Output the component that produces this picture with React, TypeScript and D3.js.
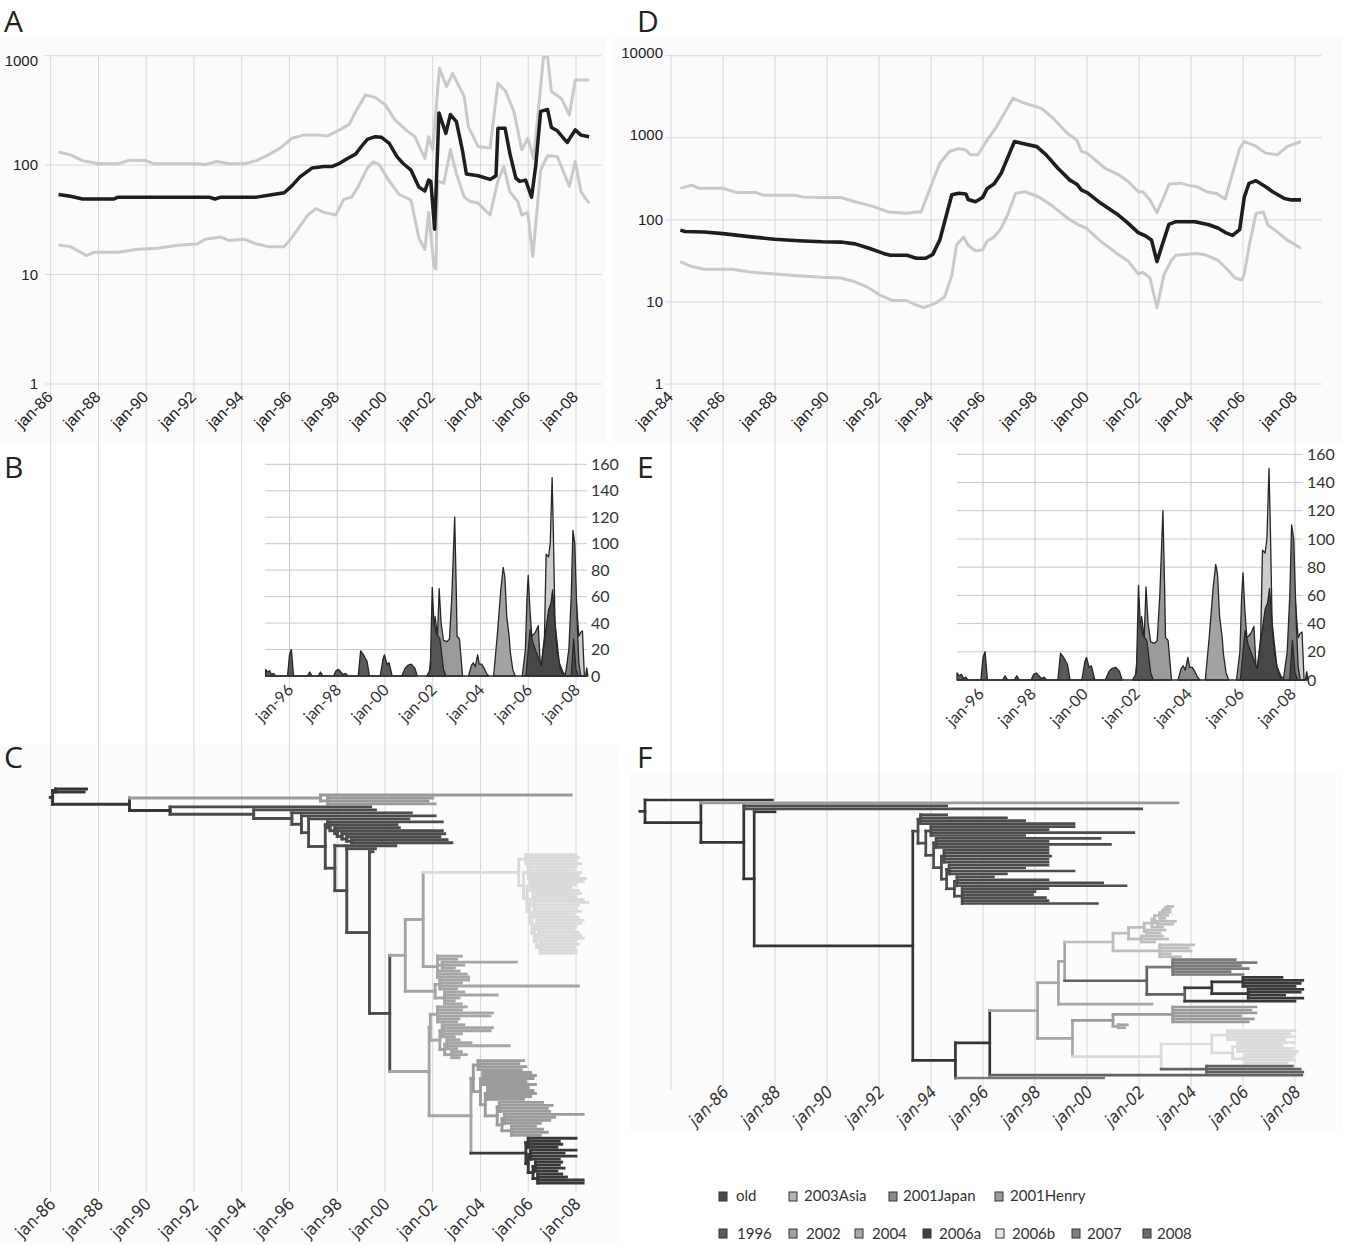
import React from 'react';
import * as d3 from 'd3';

type Pt = [number, number];

// ---------- Tick values ----------
const leftYears = [1986, 1988, 1990, 1992, 1994, 1996, 1998, 2000, 2002, 2004, 2006, 2008];
const rightYears = [1984, 1986, 1988, 1990, 1992, 1994, 1996, 1998, 2000, 2002, 2004, 2006, 2008];
const areaYears = [1996, 1998, 2000, 2002, 2004, 2006, 2008];
const treeFYears = [1986, 1988, 1990, 1992, 1994, 1996, 1998, 2000, 2002, 2004, 2006, 2008];
const logTicksA = [1, 10, 100, 1000];
const logTicksD = [1, 10, 100, 1000, 10000];
const countTicks = [0, 20, 40, 60, 80, 100, 120, 140, 160];
const tickLabel = (y: number) => `jan-${String(y % 100).padStart(2, '0')}`;

// ---------- Panel A (population size, log scale) ----------
const aMedian: Pt[] = [[1986.33,54],[1986.83,52],[1987.33,49],[1987.99,49],[1988.65,49],[1988.82,51],[1990.48,51],[1992.63,51],[1992.88,49],[1993.13,51],[1994.62,51],[1995.12,53],[1995.78,56],[1996.11,65],[1996.44,78],[1996.94,94],[1997.44,97],[1997.77,97],[1998.1,104],[1998.43,115],[1998.77,126],[1999.01,148],[1999.26,172],[1999.59,182],[1999.84,180],[2000.17,159],[2000.51,119],[2000.75,104],[2001.09,90],[2001.42,63],[2001.67,58],[2001.83,73],[2001.92,71],[2002.08,26],[2002.26,300],[2002.55,195],[2002.74,290],[2002.99,250],[2003.24,138],[2003.41,83],[2003.9,80],[2004.4,74],[2004.65,80],[2004.73,217],[2005.03,217],[2005.23,128],[2005.48,76],[2005.64,71],[2005.89,73],[2006.14,51],[2006.31,97],[2006.52,310],[2006.81,322],[2006.97,221],[2007.22,206],[2007.63,161],[2007.97,210],[2008.21,188],[2008.55,182]];
const aUpper: Pt[] = [[1986.33,132],[1986.83,124],[1987.33,110],[1987.99,103],[1988.82,103],[1989.32,111],[1989.98,110],[1990.31,103],[1992.14,103],[1992.47,101],[1992.96,108],[1993.46,103],[1994.12,103],[1994.62,110],[1995.12,124],[1995.61,143],[1996.11,176],[1996.61,189],[1997.11,189],[1997.6,185],[1998.1,210],[1998.51,237],[1998.77,308],[1999.18,437],[1999.59,416],[2000.01,355],[2000.42,259],[2000.92,206],[2001.25,182],[2001.67,115],[2001.83,182],[2002.0,138],[2002.28,767],[2002.58,521],[2002.83,690],[2003.32,422],[2003.49,225],[2003.9,148],[2004.4,143],[2004.73,560],[2005.06,470],[2005.4,308],[2005.73,138],[2005.98,176],[2006.23,115],[2006.64,980],[2006.81,980],[2006.97,470],[2007.39,407],[2007.72,287],[2007.97,600],[2008.55,600]];
const aLower: Pt[] = [[1986.33,18.6],[1986.83,18],[1987.5,14.9],[1987.83,16],[1988.82,16],[1989.65,17],[1990.48,17.4],[1991.31,18.5],[1992.14,19],[1992.47,21],[1993.13,22],[1993.46,20.5],[1994.12,21],[1994.62,19],[1995.12,18],[1995.78,18],[1996.11,22],[1996.77,35],[1997.11,40],[1997.44,37],[1997.94,35],[1998.27,48.7],[1998.6,51],[1998.85,62],[1999.26,94],[1999.51,107],[1999.76,101],[2000.17,72],[2000.59,54],[2001.09,48],[2001.42,21.5],[2001.67,17],[2001.83,37],[2002.05,11.9],[2002.13,11.3],[2002.21,72],[2002.46,68],[2002.74,138],[2002.99,84],[2003.32,51],[2003.57,46.5],[2003.9,45],[2004.4,35],[2004.73,72],[2004.98,97],[2005.23,57],[2005.56,46.5],[2005.73,35],[2005.98,37],[2006.19,14.6],[2006.52,90],[2006.81,122],[2007.22,120],[2007.72,64],[2007.97,108],[2008.21,57],[2008.55,45]];

// ---------- Panel D ----------
const dMedian: Pt[] = [[1984.36,75],[1984.54,72],[1985.27,71],[1986.0,68],[1987.09,62],[1987.99,58],[1988.9,55.6],[1989.81,54],[1990.53,53.6],[1991.08,51],[1991.62,45],[1992.17,39],[1992.44,37],[1993.07,37],[1993.44,34],[1993.8,34],[1994.07,38],[1994.34,57],[1994.8,202],[1995.07,211],[1995.34,207],[1995.43,177],[1995.71,166],[1995.98,187],[1996.16,240],[1996.43,275],[1996.7,370],[1997.07,707],[1997.21,900],[1997.61,840],[1998.07,780],[1998.43,620],[1998.88,425],[1999.34,305],[1999.61,272],[1999.79,230],[2000.01,215],[2000.52,160],[2001.15,118],[2001.51,95],[2001.97,70],[2002.24,64],[2002.48,57],[2002.69,31],[2002.87,47],[2003.15,88],[2003.42,95],[2004.15,95],[2004.69,87],[2005.05,79],[2005.32,70],[2005.6,64.6],[2005.87,76],[2006.05,190],[2006.23,278],[2006.5,300],[2006.87,253],[2007.14,220],[2007.59,182],[2007.87,175],[2008.23,175]];
const dUpper: Pt[] = [[1984.36,242],[1984.8,265],[1985.07,242],[1986.0,242],[1986.54,215],[1987.27,215],[1987.54,200],[1988.72,200],[1989.08,190],[1989.81,187],[1990.53,187],[1991.08,166],[1991.8,145],[1992.35,125],[1993.07,120],[1993.44,125],[1993.62,125],[1993.98,250],[1994.34,490],[1994.71,680],[1995.07,740],[1995.34,710],[1995.52,620],[1995.8,620],[1996.16,940],[1996.52,1360],[1997.15,3020],[1997.61,2630],[1998.25,2280],[1998.7,1730],[1999.25,1130],[1999.61,940],[1999.79,680],[2000.0,650],[2000.7,425],[2001.25,350],[2001.6,290],[2001.97,220],[2002.15,220],[2002.42,175],[2002.69,122],[2002.96,190],[2003.15,273],[2003.6,280],[2003.88,265],[2004.25,252],[2004.6,220],[2004.97,210],[2005.32,180],[2005.6,370],[2005.87,740],[2006.05,900],[2006.5,790],[2006.87,650],[2007.32,620],[2007.69,780],[2008.23,900]];
const dLower: Pt[] = [[1984.36,31],[1984.8,27],[1985.27,25],[1986.36,25],[1987.09,23],[1988.72,21],[1989.81,20],[1990.53,19.6],[1991.08,17.6],[1991.53,15.3],[1992.08,11.9],[1992.53,10.4],[1993.07,10.4],[1993.35,9.4],[1993.71,8.5],[1994.16,9.6],[1994.52,11.5],[1994.8,21],[1994.98,49],[1995.25,62],[1995.43,49],[1995.71,42],[1995.98,43],[1996.16,55],[1996.43,62],[1996.7,79],[1996.97,120],[1997.25,210],[1997.61,220],[1998.15,190],[1998.7,145],[1999.25,105],[1999.7,86],[1999.98,79],[2000.52,55],[2001.15,39],[2001.6,31],[2001.97,22],[2002.15,23],[2002.42,19.6],[2002.69,8.5],[2002.96,21.5],[2003.24,32],[2003.42,37],[2003.88,38],[2004.25,39],[2004.6,37],[2005.05,32],[2005.42,24.5],[2005.69,19.6],[2005.96,18.5],[2006.05,22],[2006.23,47],[2006.5,120],[2006.78,125],[2006.96,86],[2007.23,75],[2007.69,57],[2008.23,45]];

// ---------- Panels B / E (cases per month, by clade) ----------
const bOld: Pt[] = [[1995.0,5],[1995.08,3],[1995.17,4],[1995.25,1],[1995.33,2],[1995.42,0],[1995.92,0],[1996.0,16],[1996.08,20],[1996.17,0],[1996.75,0],[1996.85,3],[1996.95,0],[1997.2,0],[1997.3,3],[1997.4,0],[1997.85,0],[1997.95,4],[1998.05,5],[1998.15,3],[1998.25,1],[1998.35,2],[1998.45,0],[1998.88,0],[1998.98,19],[1999.1,16],[1999.25,11],[1999.35,0],[1999.8,0],[1999.92,13],[1999.98,16],[2000.08,9],[2000.17,10],[2000.3,0],[2000.7,0],[2000.85,6],[2000.95,8],[2001.1,9],[2001.25,6],[2001.35,0]];
const b2001: Pt[] = [[2001.75,0],[2001.9,5],[2001.98,67],[2002.05,40],[2002.15,32],[2002.3,28],[2002.45,5],[2002.55,0]];
const b2002: Pt[] = [[2001.85,0],[2002.0,30],[2002.1,45],[2002.2,30],[2002.27,66],[2002.35,40],[2002.45,27],[2002.6,26],[2002.7,28],[2002.8,60],[2002.92,120],[2002.98,70],[2003.02,30],[2003.12,28],[2003.25,0]];
const b2003: Pt[] = [[2003.5,0],[2003.62,8],[2003.7,10],[2003.78,7],[2003.88,16],[2003.95,9],[2004.05,9],[2004.15,6],[2004.25,2],[2004.35,0]];
const b2004: Pt[] = [[2004.55,0],[2004.7,30],[2004.85,65],[2004.95,82],[2005.02,75],[2005.1,45],[2005.2,30],[2005.25,18],[2005.35,5],[2005.45,0]];
const b2005: Pt[] = [[2005.75,0],[2005.88,20],[2005.95,60],[2006.0,76],[2006.07,50],[2006.15,30],[2006.3,33],[2006.42,38],[2006.5,10],[2006.6,0]];
const b2006a: Pt[] = [[2005.9,0],[2006.0,20],[2006.08,35],[2006.2,25],[2006.4,15],[2006.55,8],[2006.7,30],[2006.85,50],[2006.95,55],[2007.02,65],[2007.1,45],[2007.2,20],[2007.35,5],[2007.5,0],[2007.8,0],[2007.9,28],[2008.0,5],[2008.1,0],[2008.4,0],[2008.45,6],[2008.5,0]];
const b2006b: Pt[] = [[2006.5,0],[2006.68,30],[2006.75,92],[2006.85,90],[2006.92,100],[2007.0,150],[2007.05,110],[2007.12,40],[2007.3,10],[2007.45,3],[2007.6,0],[2007.72,10],[2007.85,30],[2008.0,60],[2008.12,30],[2008.2,33],[2008.27,34],[2008.35,0]];
const b2007: Pt[] = [[2007.55,0],[2007.7,20],[2007.8,60],[2007.87,110],[2007.95,100],[2008.05,40],[2008.12,10],[2008.2,0]];
const areaSeries: { data: Pt[]; fill: string }[] = [
  { data: b2006b, fill: '#cdcdcd' },
  { data: b2002, fill: '#9a9a9a' },
  { data: b2004, fill: '#a2a2a2' },
  { data: b2005, fill: '#8c8c8c' },
  { data: b2003, fill: '#8a8a8a' },
  { data: b2007, fill: '#7a7a7a' },
  { data: bOld, fill: '#5a5a5a' },
  { data: b2001, fill: '#555555' },
  { data: b2006a, fill: '#474747' },
];

// ---------- Trees (Newick-like: "(children)@date", leaves "date", ":key" = clade) ----------
const fan = (t: number, tips: number[], key?: string) => `(${tips.join(',')})@${t}${key ? ':' + key : ''}`;
const ladder = (parts: string[], dates: number[], key?: string) => {
  let s = parts[parts.length - 1];
  for (let i = parts.length - 2; i >= 0; i--) s = `(${parts[i]},${s})@${dates[i]}`;
  return s + (key ? ':' + key : '');
};
const rladder = (parts: string[], dates: number[], key?: string) => {
  let s = parts[0];
  for (let i = 1; i < parts.length; i++) s = `(${s},${parts[i]})@${dates[i - 1]}`;
  return s + (key ? ':' + key : '');
};

// Tree C
const cH01 = `(2007.8,${fan(1997.6, [2002.0, 2001.8, 2002.1])})@1997.3:h01`;
const cRest = ladder(['2002.4', '2000.5', '2000.6', '2002.4', '2002.5', '2002.3', fan(1998.6, [2002.6, 2002.8])], [1997.6, 1997.7, 1997.9, 1998.0, 1998.2, 1998.4]);
const c06b = ladder([
  fan(2005.9, [2008.0, 2008.1, 2008.0, 2008.2]),
  fan(2006.0, [2008.0, 2007.9, 2008.2, 2008.1, 2008.4]),
  fan(2006.1, [2008.3, 2008.0, 2007.8, 2008.1]),
  fan(2006.2, [2008.2, 2008.0, 2008.3, 2008.5, 2008.1]),
  fan(2006.25, [2008.0, 2008.2, 2007.9, 2008.1]),
  fan(2006.35, [2008.3, 2008.2, 2008.0, 2007.9]),
  fan(2006.45, [2008.1, 2008.2, 2008.3]),
  fan(2006.5, [2008.0, 2008.1, 2007.9, 2008.0, 2008.0]),
], [2005.6, 2005.8, 2005.95, 2006.05, 2006.15, 2006.25, 2006.35], 'c06b');
const c02a = `(2003.2,2003.0,${fan(2002.4, [2005.5, 2003.3, 2002.9])},2003.1,2003.4,2003.5)@2002.2`;
const c02b = `(${fan(2002.3, [2003.5, 2003.2, 2008.1, 2003.0])},${fan(2002.5, [2003.3, 2004.7, 2003.1, 2002.9, 2003.2])})@2002.1`;
const c02c = ladder([
  fan(2002.2, [2003.4, 2003.2, 2004.5, 2004.4, 2003.1, 2003.0]),
  fan(2002.4, [2003.3, 2004.5, 2004.4, 2003.2, 2002.9]),
  fan(2002.6, [2003.1, 2003.6, 2005.2, 2003.0]),
  fan(2002.8, [2003.2, 2003.4, 2003.1]),
], [2001.9, 2002.3, 2002.5]);
const c04 = ladder([
  fan(2003.9, [2005.8, 2005.6, 2005.9, 2005.7]),
  fan(2004.1, [2006.1, 2006.3, 2006.2, 2005.9, 2006.3]),
  fan(2004.3, [2006.0, 2006.2, 2006.3, 2006.1, 2005.8]),
  fan(2004.8, [2006.6, 2007.0, 2006.8, 2006.9]),
  fan(2005.0, [2008.3, 2007.1, 2006.9, 2006.5]),
  fan(2005.3, [2006.3, 2006.6, 2006.8, 2006.5]),
], [2003.7, 2004.0, 2004.2, 2004.7, 2004.9], 'c04');
const c06a = ladder([
  fan(2006.0, [2008.0, 2007.3, 2007.4, 2007.2]),
  fan(2006.1, [2008.0, 2007.5, 2008.0, 2007.3]),
  fan(2006.3, [2007.4, 2007.3, 2007.5, 2007.2]),
  fan(2006.4, [2007.4, 2007.6, 2008.3, 2008.3]),
], [2005.9, 2006.0, 2006.2], 'c06a');
const cG02 = `(((${c06b},${c02a})@2001.6:c02,${c02b})@2000.85:c02,(${c02c},(${c04},${c06a})@2003.6)@2001.85:c02)@2000.2`;
const cPath = ladder(['2000.45', '1999.6', '1999.5', cG02], [1997.9, 1998.4, 1999.35]);
const c96 = ladder(['1999.6', '2001.1', '2002.1', '2001.0', `(${cRest},${cPath})@1997.5`], [1994.5, 1996.1, 1996.5, 1996.8], 'c96');
const treeC = `(${fan(1986.2, [1987.5, 1987.4])},(${cH01},(1999.4:c96,${c96})@1991.0)@1989.3)@1986.08:old`;

// Tree F
const f96 = ladder([
  fan(1993.6, [1994.6, 1996.9, 1997.6, 1999.5]),
  fan(1994.0, [1999.5, 1998.5, 2001.8, 1997.6]),
  fan(1994.2, [2000.5, 1998.5, 2000.9, 1998.5]),
  fan(1994.5, [1998.5, 1998.5, 1998.6, 1998.5, 1998.5]),
  fan(1994.7, [1998.5, 1997.6, 1999.5, 1996.9]),
  fan(1995.0, [1996.4, 1998.5, 2000.6, 2001.5]),
  fan(1995.2, [1998.5, 1998.0, 1997.9, 1998.4, 1998.5, 2000.4]),
], [1993.5, 1993.8, 1994.1, 1994.4, 1994.6, 1994.9], 'c96');
const fAsia = rladder([
  fan(2003.1, [2003.3, 2003.2]), '2003.2', '2003.1', '2003.0',
  fan(2002.7, [2003.4, 2003.3]), '2002.9', fan(2002.3, [2003.0, 2002.8]), fan(2002.1, [2002.9, 2003.1, 2002.6]),
], [2003.0, 2002.9, 2002.8, 2002.6, 2002.5, 2002.2, 2001.6]);
const fAsiaAll = `(${fAsia},${fan(2002.8, [2004.1, 2003.9, 2004.0, 2003.2, 2003.6])})@2001.0:c03a`;
const f06a = ladder([fan(2006.0, [2007.5, 2008.3, 2008.2, 2008.0]), fan(2006.2, [2008.3, 2008.2, 2007.6, 2008.3])], [2004.8], 'c06a');
const fDark = `(${fan(2003.3, [2005.7, 2006.5, 2005.9, 2006.2, 2005.5, 2006.0], 'c07')},(${f06a},2008.0:c06a)@2003.76)@2002.3:c08`;
const fL3 = `((${fAsiaAll},${fDark})@1999.14,2002.5:c02)@1998.9`;
const f04 = fan(2003.3, [2006.5, 2006.3, 2006.5, 2005.9, 2006.4, 2006.2], 'c04');
const f06b = ladder([fan(2005.4, [2008.0, 2007.8, 2008.0, 2007.6]), fan(2005.8, [2008.0, 2007.5, 2007.9, 2008.1]), fan(2006.1, [2008.0, 2007.9, 2008.0, 2007.7])], [2004.8, 2005.6], 'c06b');
const fL4 = `((${f04},${fan(2001.2, [2001.55, 2001.45], 'c02')})@2001.0:c04,(${f06b},${fan(2004.6, [2007.9, 2008.2, 2008.3], 'c08')})@2002.85:c06b)@1999.44`;
const fLower = `(((${fL3},${fL4})@1998.1:c02,2008.26:c08)@1996.26,2000.64:c07)@1994.94`;
const treeF = `(1987.9,(2003.5:h01,(1994.6:c96,2002.1:c96,(1988.0,(${f96},${fLower})@1993.3)@1987.2)@1986.8)@1985.15)@1983.0:old`;

const cladeColor: Record<string, string> = {
  old: '#353535', c96: '#4c4c4c', h01: '#9a9a9a', c02: '#a5a5a5', c03a: '#bdbdbd',
  c04: '#9b9b9b', c06a: '#383838', c06b: '#dadada', c07: '#7a7a7a', c08: '#626262',
};

// ---------- Legend ----------
const legendRow1 = ['old', '2003Asia', '2001Japan', '2001Henry'];
const legendRow1Fill = ['#4a4a4a', '#b4b4b4', '#8c8c8c', '#9c9c9c'];
const legendRow2 = ['1996', '2002', '2004', '2006a', '2006b', '2007', '2008'];
const legendRow2Fill = ['#5c5c5c', '#a0a0a0', '#a8a8a8', '#404040', '#e8e8e8', '#808080', '#6a6a6a'];
const legendRow1X = [719, 789, 889, 995];
const legendRow1TX = [736, 804, 903, 1010];
const legendRow2X = [719, 789, 855, 923, 996, 1072, 1143];
const legendRow2TX = [737, 806, 872, 939, 1012, 1087, 1157];

// ---------- Helpers ----------
interface TNode { t: number; k?: string; ch?: TNode[]; y?: number }
function parseTree(s: string): TNode {
  let i = 0;
  const readNum = () => { const st = i; while (i < s.length && /[0-9.]/.test(s[i])) i++; return parseFloat(s.slice(st, i)); };
  const readKey = () => {
    if (s[i] === ':') { i++; const st = i; while (i < s.length && /[a-z0-9]/.test(s[i])) i++; return s.slice(st, i); }
    return undefined;
  };
  const node = (): TNode => {
    if (s[i] === '(') {
      i++;
      const ch = [node()];
      while (s[i] === ',') { i++; ch.push(node()); }
      i++; // ')'
      i++; // '@'
      const t = readNum();
      const k = readKey();
      return { t, k, ch };
    }
    const t = readNum();
    const k = readKey();
    return { t, k };
  };
  return node();
}

interface Seg { x1: number; y1: number; x2: number; y2: number; c: string }
function treeSegments(src: string, xs: (v: number) => number, y0: number, y1: number, stub: number): Seg[] {
  const root = parseTree(src);
  const leaves: TNode[] = [];
  const walk = (n: TNode, pk: string) => { n.k = n.k || pk; if (n.ch) n.ch.forEach(c => walk(c, n.k as string)); else leaves.push(n); };
  walk(root, 'old');
  const ys = d3.scaleLinear().domain([0, leaves.length - 1]).range([y0, y1]);
  leaves.forEach((l, i) => { l.y = ys(i); });
  const setY = (n: TNode) => { if (n.ch) { n.ch.forEach(setY); n.y = ((n.ch[0].y as number) + (n.ch[n.ch.length - 1].y as number)) / 2; } };
  setY(root);
  const segs: Seg[] = [];
  segs.push({ x1: xs(root.t - stub), x2: xs(root.t), y1: root.y as number, y2: root.y as number, c: cladeColor.old });
  const emit = (n: TNode) => {
    if (!n.ch) return;
    segs.push({ x1: xs(n.t), x2: xs(n.t), y1: n.ch[0].y as number, y2: n.ch[n.ch.length - 1].y as number, c: cladeColor[n.k as string] });
    n.ch.forEach(c => {
      segs.push({ x1: xs(n.t), x2: xs(c.t), y1: c.y as number, y2: c.y as number, c: cladeColor[c.k as string] });
    });
    n.ch.forEach(emit);
  };
  emit(root);
  return segs;
}

const SANS = "'Liberation Sans', Arial, sans-serif";
const MYRIAD = "Lato, 'Open Sans', sans-serif";
const NARROW = "'Liberation Sans Narrow', 'DejaVu Sans Condensed', Roboto, sans-serif";

export default function App() {
  // scales
  const xA = d3.scaleLinear().domain([1986, 2008]).range([50.7, 576]);
  const yA = d3.scaleLog().domain([1, 1000]).range([384, 55.7]);
  const xD = d3.scaleLinear().domain([1984, 2008]).range([671, 1295]);
  const yD = d3.scaleLog().domain([1, 10000]).range([384, 55.7]);
  const yB = d3.scaleLinear().domain([0, 160]).range([676, 464.3]);
  const yE = d3.scaleLinear().domain([0, 160]).range([680, 454.3]);

  const lineA = d3.line<Pt>().x(d => xA(d[0])).y(d => yA(d[1]));
  const lineD = d3.line<Pt>().x(d => xD(d[0])).y(d => yD(d[1]));
  const areaB = d3.area<Pt>().x(d => xA(d[0])).y0(yB(0)).y1(d => yB(d[1]));
  const areaE = d3.area<Pt>().x(d => xD(d[0])).y0(yE(0)).y1(d => yE(d[1]));

  const segC = treeSegments(treeC, xA, 789, 1183, 0.1);
  const segF = treeSegments(treeF, xD, 800, 1078, 0.2);

  const gridColor = '#d8d8d8';
  const bGrid = '#c8c8d2';
  const letter = (t: string, x: number, y: number) => (
    <text x={x} y={y} fontFamily="'Open Sans', sans-serif" fontSize={30} fill="#222">{t}</text>
  );

  return (
    <svg width={1349} height={1245} style={{ position: 'absolute', left: 0, top: 0, background: '#fff' }} fontFamily={SANS}>
      <defs>
        <clipPath id="clipA"><rect x={50.7} y={55.7} width={551} height={328.3} /></clipPath>
        <clipPath id="clipD"><rect x={671} y={55.7} width={651} height={328.3} /></clipPath>
      </defs>
      <rect x={0} y={38} width={606} height={404} fill="#fbfbfb" />
      <rect x={612} y={38} width={730} height={404} fill="#fbfbfb" />
      <rect x={0} y={745} width={620} height={500} fill="#fcfcfc" />
      <rect x={630} y={770} width={712} height={360} fill="#fcfcfc" />

      {/* background vertical year lines */}
      {leftYears.map(y => (
        <line key={'lv' + y} x1={xA(y)} x2={xA(y)} y1={55.7} y2={1192} stroke={gridColor} strokeWidth={1} />
      ))}
      {rightYears.map(y => (
        <line key={'rv' + y} x1={xD(y)} x2={xD(y)} y1={55.7} y2={1090} stroke={gridColor} strokeWidth={1} />
      ))}

      {/* Panel A */}
      {logTicksA.map(v => (
        <g key={'ah' + v}>
          <line x1={45} x2={601.7} y1={yA(v)} y2={yA(v)} stroke={gridColor} strokeWidth={1} />
          <text x={38} y={yA(v) + (v === 1000 ? 5 : 0)} dy="0.35em" textAnchor="end" fontSize={15} fill="#222">{v}</text>
        </g>
      ))}
      <g clipPath="url(#clipA)" fill="none" strokeLinejoin="round">
        <path d={lineA(aUpper) || ''} stroke="#c9c9c9" strokeWidth={3} />
        <path d={lineA(aLower) || ''} stroke="#c9c9c9" strokeWidth={3} />
        <path d={lineA(aMedian) || ''} stroke="#1e1e1e" strokeWidth={3.5} />
      </g>
      {leftYears.map(y => (
        <text key={'at' + y} transform={`translate(${xA(y) + 3},${398}) rotate(-45)`} textAnchor="end" fontSize={16} fill="#222">{tickLabel(y)}</text>
      ))}

      {/* Panel D */}
      {logTicksD.map(v => (
        <g key={'dh' + v}>
          <line x1={665} x2={1321.7} y1={yD(v)} y2={yD(v)} stroke={gridColor} strokeWidth={1} />
          <text x={663} y={yD(v) - (v >= 1000 ? 3 : 0)} dy="0.35em" textAnchor="end" fontSize={15} fill="#222">{v}</text>
        </g>
      ))}
      <g clipPath="url(#clipD)" fill="none" strokeLinejoin="round">
        <path d={lineD(dUpper) || ''} stroke="#c9c9c9" strokeWidth={3} />
        <path d={lineD(dLower) || ''} stroke="#c9c9c9" strokeWidth={3} />
        <path d={lineD(dMedian) || ''} stroke="#1e1e1e" strokeWidth={3.6} />
      </g>
      {rightYears.map(y => (
        <text key={'dt' + y} transform={`translate(${xD(y) + 3},${398}) rotate(-45)`} textAnchor="end" fontSize={16} fill="#222">{tickLabel(y)}</text>
      ))}

      {/* Panel B */}
      <rect x={265} y={464.3} width={322} height={211.7} fill="#fff" />
      {areaYears.map(y => (
        <line key={'bv' + y} x1={xA(y)} x2={xA(y)} y1={464.3} y2={676} stroke={bGrid} />
      ))}
      {countTicks.map(v => (
        <g key={'bh' + v}>
          <line x1={265} x2={587} y1={yB(v)} y2={yB(v)} stroke={bGrid} />
          <text x={591} y={yB(v)} dy="0.35em" fontFamily={MYRIAD} fontSize={16} fill="#333">{v}</text>
        </g>
      ))}
      {areaSeries.map((s, i) => (
        <path key={'ba' + i} d={areaB(s.data) || ''} fill={s.fill} stroke="#262626" strokeWidth={1.3} strokeLinejoin="round" />
      ))}
      <line x1={265} x2={587} y1={yB(0)} y2={yB(0)} stroke="#333" strokeWidth={1.3} />
      {areaYears.map(y => (
        <text key={'bt' + y} transform={`translate(${xA(y) + 5},${691}) rotate(-45)`} textAnchor="end" fontFamily={MYRIAD} fontSize={16} fill="#333">{tickLabel(y)}</text>
      ))}

      {/* Panel E */}
      <rect x={957} y={454.3} width={346} height={225.7} fill="#fff" />
      {areaYears.map(y => (
        <line key={'ev' + y} x1={xD(y)} x2={xD(y)} y1={454.3} y2={680} stroke={bGrid} />
      ))}
      {countTicks.map(v => (
        <g key={'eh' + v}>
          <line x1={957} x2={1303} y1={yE(v)} y2={yE(v)} stroke={bGrid} />
          <text x={1307} y={yE(v)} dy="0.35em" fontFamily={MYRIAD} fontSize={16} fill="#333">{v}</text>
        </g>
      ))}
      {areaSeries.map((s, i) => (
        <path key={'ea' + i} d={areaE(s.data) || ''} fill={s.fill} stroke="#262626" strokeWidth={1.3} strokeLinejoin="round" />
      ))}
      <line x1={957} x2={1303} y1={yE(0)} y2={yE(0)} stroke="#333" strokeWidth={1.3} />
      {areaYears.map(y => (
        <text key={'et' + y} transform={`translate(${xD(y) + 2},${695}) rotate(-45)`} textAnchor="end" fontFamily={MYRIAD} fontSize={16} fill="#333">{tickLabel(y)}</text>
      ))}

      {/* Panel C tree */}
      <g strokeLinecap="square">
        {segC.map((s, i) => (
          <line key={'c' + i} x1={s.x1} y1={s.y1} x2={s.x2} y2={s.y2} stroke={s.c} strokeWidth={2.9} />
        ))}
      </g>
      {leftYears.map(y => (
        <text key={'ct' + y} transform={`translate(${xA(y) + 6},${1205}) rotate(-45)`} textAnchor="end" fontFamily={NARROW} fontSize={17} fill="#333">{tickLabel(y)}</text>
      ))}

      {/* Panel F tree */}
      <g strokeLinecap="square">
        {segF.map((s, i) => (
          <line key={'f' + i} x1={s.x1} y1={s.y1} x2={s.x2} y2={s.y2} stroke={s.c} strokeWidth={2.7} />
        ))}
      </g>
      {treeFYears.map(y => (
        <text key={'ft' + y} transform={`translate(${xD(y) + 7},${1093}) rotate(-45)`} textAnchor="end" fontFamily={NARROW} fontStyle="italic" fontSize={17} fill="#333">{tickLabel(y)}</text>
      ))}

      {/* Legend */}
      {legendRow1.map((t, i) => (
        <g key={'l1' + t}>
          <rect x={legendRow1X[i]} y={1192} width={8} height={9} fill={legendRow1Fill[i]} stroke="#333" strokeWidth={1} />
          <text x={legendRow1TX[i]} y={1201} fontFamily={MYRIAD} fontSize={15} fill="#333">{t}</text>
        </g>
      ))}
      {legendRow2.map((t, i) => (
        <g key={'l2' + t}>
          <rect x={legendRow2X[i]} y={1229} width={8} height={9} fill={legendRow2Fill[i]} stroke="#333" strokeWidth={1} />
          <text x={legendRow2TX[i]} y={1239} fontFamily={MYRIAD} fontSize={15} fill="#333">{t}</text>
        </g>
      ))}

      {/* Panel letters */}
      {letter('A', 4, 32)}
      {letter('B', 4, 478)}
      {letter('C', 4, 768)}
      {letter('D', 637, 32)}
      {letter('E', 637, 478)}
      {letter('F', 637, 768)}
    </svg>
  );
}
